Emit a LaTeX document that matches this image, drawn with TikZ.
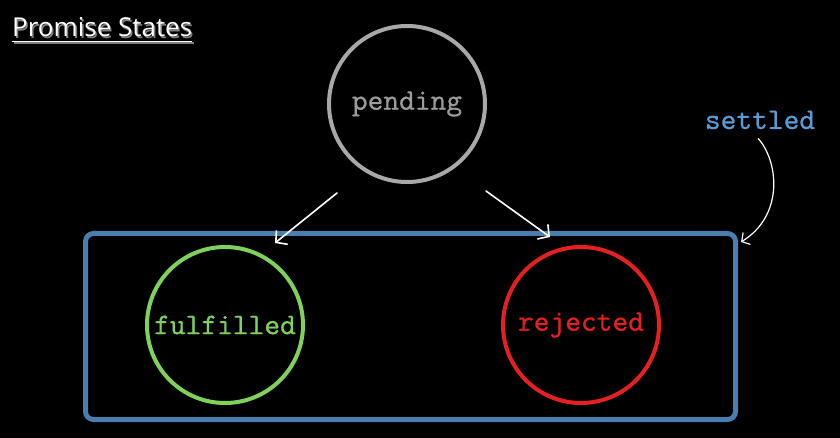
\documentclass[tikz,border=0pt]{standalone}
\usepackage{fontspec}
\setmainfont{Open Sans}
\newfontfamily\codefont{lmmono10-regular.otf}[FakeBold=0.5]
\usetikzlibrary{arrows.meta,positioning}
\definecolor{pendgrey}{HTML}{A8A8A8}
\definecolor{pendtext}{HTML}{9C9C9C}
\definecolor{fulgreen}{HTML}{7ED15B}
\definecolor{rejred}{HTML}{E6201E}
\definecolor{boxblue}{HTML}{4A7EAE}
\definecolor{setblue}{HTML}{5B9BD5}

\begin{document}
\begin{tikzpicture}[x=1pt,y=-1pt,
  state/.style={circle,line width=4pt,minimum size=156pt,inner sep=0pt,outer sep=0pt,
    font=\codefont\fontsize{30}{30}\selectfont},
  flow/.style={white,line width=1.6pt,line cap=round,-{Straight Barb[length=8pt,width=18pt,line width=1.6pt]}},
  node distance=200pt]
\fill[black] (0,0) rectangle (840,438);
\useasboundingbox (0,0) rectangle (840,438);

% title with shadow
\node[anchor=base west,inner sep=0pt,text=gray,font=\fontsize{26}{26}\selectfont] (shadow) at (13.5,38.5) {Promise States};
\node[anchor=base west,inner sep=0pt,text=white,font=\fontsize{26}{26}\selectfont] (title) at (12,37) {Promise States};
\draw[gray,line width=1.8pt] ([shift={(1.5pt,-6pt)}]title.base west) -- ([shift={(1.5pt,-6pt)}]title.base east);
\draw[white,line width=1.8pt] ([yshift=-4.5pt]title.base west) -- ([yshift=-4.5pt]title.base east);

\node[draw=boxblue,line width=5pt,rounded corners=8pt,minimum width=650pt,minimum height=186pt,outer sep=0pt] (box) at (410.5,326.5) {};

\node[state,draw=pendgrey,text=pendtext] (pending) at (407,104) {pending};
\node[state,draw=fulgreen,text=fulgreen] (fulfilled) at (225,325) {fulfilled};
\node[state,draw=rejred,text=rejred] (rejected) [right=of fulfilled] {rejected};

\node[anchor=base,inner sep=2pt,text=setblue,font=\codefont\fontsize{30}{30}\selectfont] (settled) at (760,129) {settled};

\coordinate (fromL) at (337,193);
\coordinate (toL) at (275,243);
\coordinate (fromR) at (486,191);
\coordinate (toR) at (550,237);
\coordinate (toBox) at (741,242);

\draw[flow] (fromL) -- (toL);
\draw[flow] (fromR) -- (toR);
\draw[white,line width=1.2pt,-{Straight Barb[length=6pt,width=14pt,line width=1.2pt]}]
  ([shift={(-2pt,-7pt)}]settled.south) .. controls (778,160) and (785,215) .. (toBox);
\end{tikzpicture}
\end{document}
